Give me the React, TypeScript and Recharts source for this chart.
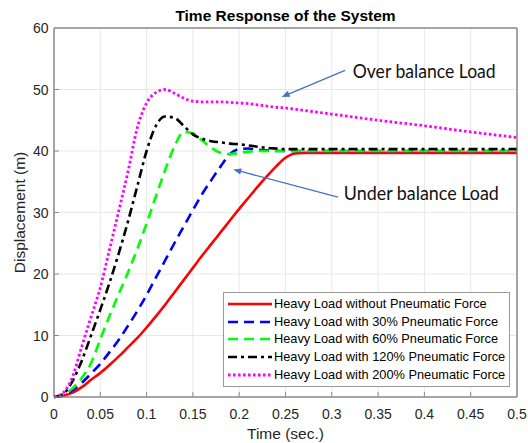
import {
  CartesianGrid,
  Label,
  Legend,
  Line,
  LineChart,
  ReferenceArea,
  ReferenceDot,
  ReferenceLine,
  XAxis,
  YAxis,
} from "recharts";

// time axis (sec.)
const time = [
  0, 0.01, 0.02, 0.03, 0.04, 0.05, 0.06, 0.07, 0.08, 0.09, 0.1, 0.11, 0.12,
  0.13, 0.14, 0.15, 0.16, 0.17, 0.18, 0.19, 0.2, 0.21, 0.22, 0.23, 0.24, 0.25,
  0.26, 0.27, 0.28, 0.29, 0.3, 0.35, 0.4, 0.45, 0.5,
];

const noPneumatic = [
  0, 0.2, 0.7, 1.6, 2.8, 3.9, 5.2, 6.6, 8.1, 9.6, 11.3, 13.1, 15, 17, 19, 21,
  23, 24.9, 26.8, 28.7, 30.6, 32.4, 34.2, 35.9, 37.5, 38.9, 39.6, 39.7, 39.7,
  39.7, 39.7, 39.7, 39.7, 39.7, 39.7,
];
const pneumatic30 = [
  0, 0.3, 1.1, 2.3, 3.8, 5.4, 7.3, 9.3, 11.6, 14, 16.6, 19.4, 22.2, 25, 27.7,
  30.4, 33, 35.3, 37.5, 39.5, 40.3, 40.4, 40.2, 40.1, 40, 40, 40, 40, 40, 40,
  40, 40, 40, 40, 40,
];
const pneumatic60 = [
  0, 0.4, 1.4, 3.1, 5.5, 9.4, 13.2, 16.8, 20.3, 24.1, 28.2, 32.6, 36.9, 40.7,
  43.1, 42.9, 41.7, 40.5, 39.7, 39.5, 39.7, 39.9, 40, 40, 40, 40, 40, 40, 40,
  40, 40, 40, 40, 40, 40,
];
const pneumatic120 = [
  0, 0.5, 2.6, 5.9, 10, 14.2, 18.6, 23.4, 28.6, 34.3, 40, 44.1, 45.6, 45.4,
  44.1, 42.7, 42, 41.6, 41.4, 41.2, 41.1, 40.9, 40.7, 40.5, 40.4, 40.3, 40.3,
  40.3, 40.3, 40.3, 40.3, 40.3, 40.3, 40.3, 40.3,
];
const pneumatic200 = [
  0, 0.7, 3.3, 8.2, 13, 17.8, 24, 30.3, 36.7, 43.8, 47.8, 49.5, 50, 49.4,
  48.6, 48.1, 48, 48, 48, 47.9, 47.8, 47.7, 47.5, 47.3, 47.1, 47, 46.8, 46.6,
  46.4, 46.2, 46, 45, 44.1, 43.1, 42.2,
];

const xTicks = [0, 0.05, 0.1, 0.15, 0.2, 0.25, 0.3, 0.35, 0.4, 0.45, 0.5];
const yTicks = [0, 10, 20, 30, 40, 50, 60];

const data = time.map((t, i) => ({
  t,
  s0: noPneumatic[i],
  s30: pneumatic30[i],
  s60: pneumatic60[i],
  s120: pneumatic120[i],
  s200: pneumatic200[i],
}));

const series = [
  { key: "s0", name: "Heavy Load without Pneumatic Force", color: "#FF0000", dash: undefined, width: 2.6 },
  { key: "s30", name: "Heavy Load with 30% Pneumatic Force", color: "#0000FF", dash: "10 6", width: 2.6 },
  { key: "s60", name: "Heavy Load with 60% Pneumatic Force", color: "#00FF00", dash: "10 6", width: 2.6 },
  { key: "s120", name: "Heavy Load with 120% Pneumatic Force", color: "#000000", dash: "9 4 3 4", width: 2.6 },
  { key: "s200", name: "Heavy Load with 200% Pneumatic Force", color: "#FF00FF", dash: "2.6 2.4", width: 2.8 },
];

const AXIS = "#8c8c8c";
const TEXT = "#262626";
const ARROW = "#4472C4";
const FONT = "'Liberation Sans', Arial, sans-serif";

const isEndX = (v: number) => v === xTicks[0] || v === xTicks[xTicks.length - 1];
const isEndY = (v: number) => v === yTicks[0] || v === yTicks[yTicks.length - 1];

const BottomTick = ({ x, y, payload }: any) => (
  <g>
    {!isEndX(payload.value) && (
      <line x1={x} y1={y} x2={x} y2={y - 5} stroke={AXIS} />
    )}
    <text x={x} y={y + 21.5} textAnchor="middle" fill={TEXT} fontSize={14}>
      {String(payload.value)}
    </text>
  </g>
);
const LeftTick = ({ x, y, payload }: any) => (
  <g>
    {!isEndY(payload.value) && (
      <line x1={x} y1={y} x2={x + 5} y2={y} stroke={AXIS} />
    )}
    <text x={x - 5.5} y={y} dy="0.36em" textAnchor="end" fill={TEXT} fontSize={14}>
      {String(payload.value)}
    </text>
  </g>
);

const Arrow = ({ x1, y1, x2, y2 }: any) => {
  const a = Math.atan2(y2 - y1, x2 - x1);
  const len = 8;
  const half = 3.2;
  const bx = x2 - len * Math.cos(a);
  const by = y2 - len * Math.sin(a);
  const pts = `${x2},${y2} ${bx + half * Math.sin(a)},${by - half * Math.cos(a)} ${bx - half * Math.sin(a)},${by + half * Math.cos(a)}`;
  return (
    <g>
      <line x1={x1} y1={y1} x2={bx} y2={by} stroke={ARROW} strokeWidth={1.3} />
      <polygon points={pts} fill={ARROW} />
    </g>
  );
};

const note = (label: string, width: number) => (p: any) => (
  <text
    x={p.cx}
    y={p.cy}
    fontFamily="Lato, 'Open Sans', sans-serif"
    fontSize={19.5}
    fill="#111"
    textLength={width}
    lengthAdjust="spacingAndGlyphs"
  >
    {label}
  </text>
);

const renderLegend = () => (
  <div
    style={{
      border: "1px solid #9a9a9a",
      background: "#fff",
      padding: "2px 4px 2px 4px",
      fontFamily: FONT,
      fontSize: 12.8,
      color: "#000",
      lineHeight: "17.7px",
      whiteSpace: "nowrap",
    }}
  >
    {series.map((s) => (
      <div key={s.key} style={{ display: "flex", alignItems: "center" }}>
        <svg width={44} height={10} style={{ marginRight: 2 }}>
          <line
            x1={0}
            y1={5}
            x2={44}
            y2={5}
            stroke={s.color}
            strokeWidth={s.width}
            strokeDasharray={s.dash}
          />
        </svg>
        <span>{s.name}</span>
      </div>
    ))}
  </div>
);

export default function App() {
  return (
    <div
      style={{
        position: "absolute",
        left: 0,
        top: 0,
        width: 528,
        height: 443,
        background: "#fff",
        fontFamily: FONT,
      }}
    >
      <LineChart
        width={528}
        height={443}
        data={data}
        margin={{ top: 0, right: 0, bottom: 0, left: 0 }}
        style={{ fontFamily: FONT }}
      >
        <CartesianGrid stroke="#e8e8e8" />
        <XAxis
          dataKey="t"
          type="number"
          domain={[0, 0.5]}
          ticks={xTicks}
          interval={0}
          height={46}
          tickSize={0}
          tickMargin={0}
          tickLine={false}
          axisLine={{ stroke: AXIS }}
          tick={<BottomTick />}
        >
          <Label
            content={({ viewBox }: any) => (
              <text
                x={viewBox.x + viewBox.width / 2}
                y={viewBox.y + 42}
                textAnchor="middle"
                fill={TEXT}
                fontSize={15.5}
              >
                Time (sec.)
              </text>
            )}
          />
        </XAxis>
        <XAxis
          xAxisId="top"
          orientation="top"
          type="number"
          domain={[0, 0.5]}
          ticks={xTicks}
          height={28}
          tick={false}
          tickLine={false}
          axisLine={{ stroke: AXIS }}
        >
          <Label
            content={({ viewBox }: any) => (
              <text
                x={viewBox.x + viewBox.width / 2}
                y={viewBox.y + viewBox.height - 7.5}
                textAnchor="middle"
                fill="#000"
                fontSize={15.5}
                fontWeight="bold"
              >
                Time Response of the System
              </text>
            )}
          />
        </XAxis>
        <YAxis
          type="number"
          domain={[0, 60]}
          ticks={yTicks}
          interval={0}
          width={54}
          tickSize={0}
          tickMargin={0}
          tickLine={false}
          axisLine={{ stroke: AXIS }}
          tick={<LeftTick />}
        >
          <Label
            content={({ viewBox }: any) => {
              const cx = viewBox.x + viewBox.width - 29;
              const cy = viewBox.y + viewBox.height / 2;
              return (
                <text
                  x={cx}
                  y={cy}
                  transform={`rotate(-90, ${cx}, ${cy})`}
                  textAnchor="middle"
                  fill={TEXT}
                  fontSize={15.5}
                >
                  Displacement (m)
                </text>
              );
            }}
          />
        </YAxis>
        <YAxis
          yAxisId="right"
          orientation="right"
          type="number"
          domain={[0, 60]}
          ticks={yTicks}
          width={11}
          tick={false}
          tickLine={false}
          axisLine={{ stroke: AXIS }}
        />
        <ReferenceArea
          x1={0}
          x2={0.5}
          y1={0}
          y2={60}
          fill="none"
          stroke={AXIS}
          strokeWidth={1}
        />
        {series.map((s) => (
          <Line
            key={s.key}
            type="monotone"
            dataKey={s.key}
            name={s.name}
            stroke={s.color}
            strokeWidth={s.width}
            strokeDasharray={s.dash}
            dot={false}
            activeDot={false}
            isAnimationActive={false}
          />
        ))}
        <ReferenceLine
          segment={[
            { x: 0.3143, y: 53.1 },
            { x: 0.2459, y: 48.8 },
          ]}
          shape={<Arrow />}
        />
        <ReferenceLine
          segment={[
            { x: 0.3067, y: 32.5 },
            { x: 0.1936, y: 37.0 },
          ]}
          shape={<Arrow />}
        />
        <ReferenceDot x={0.3226} y={51.95} r={0} shape={note("Over balance Load", 143)} />
        <ReferenceDot x={0.313} y={32.0} r={0} shape={note("Under balance Load", 155)} />
        <Legend
          layout="vertical"
          align="center"
          verticalAlign="middle"
          content={renderLegend}
          wrapperStyle={{ position: "absolute", left: 223, top: 292, width: "auto", height: "auto" }}
        />
      </LineChart>
    </div>
  );
}
